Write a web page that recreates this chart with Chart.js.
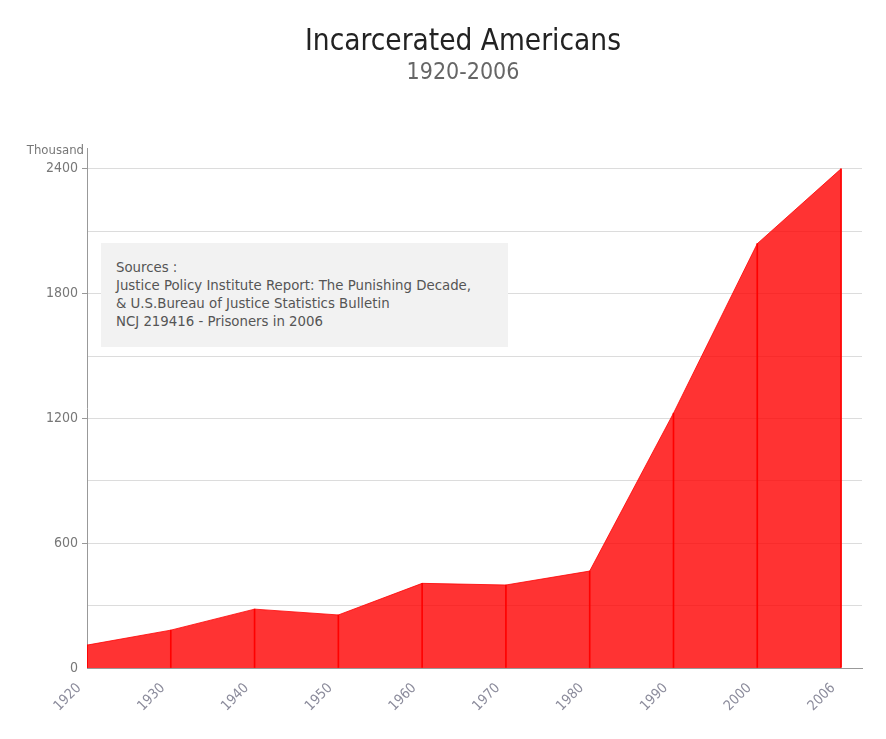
<!DOCTYPE html>
<html>
<head>
<meta charset="utf-8">
<script src="https://cdn.jsdelivr.net/npm/chart.js@4.4.1/dist/chart.umd.min.js"></script>
<style>
  html, body { margin: 0; padding: 0; background: #fff; }
  body { width: 886px; height: 739px; position: relative; overflow: hidden;
         font-family: "DejaVu Sans Condensed", "DejaVu Sans", sans-serif; }
  #wrap { position: absolute; left: 0; top: 0; width: 886px; height: 739px; }
  .title { position: absolute; left: 263px; width: 400px; text-align: center; white-space: nowrap; }
  #t1 { top: 23px; font-size: 29.5px; color: #222; }
  #t2 { top: 58px; font-size: 23px; color: #666; }
  #sources { position: absolute; left: 101px; top: 243px; width: 392px; height: 89px;
             background: #f2f2f2; padding: 15px 0 0 15px; font-size: 14.8px; line-height: 18px; color: #555; }
</style>
</head>
<body>
<div id="wrap"><canvas id="prisonChart"></canvas></div>
<div class="title" id="t1">Incarcerated Americans</div>
<div class="title" id="t2">1920-2006</div>
<div id="sources">Sources :<br>Justice Policy Institute Report: The Punishing Decade,<br>&amp; U.S.Bureau of Justice Statistics Bulletin<br>NCJ 219416 - Prisoners in 2006</div>
<script>
/* =========================
   Data (thousands)
========================= */
const years = ['1920', '1930', '1940', '1950', '1960', '1970', '1980', '1990', '2000', '2006'];
const inmates = [110, 182, 283, 255, 407, 399, 466, 1225, 2040, 2400];
const yTicks = [0, 600, 1200, 1800, 2400];

const points = years.map((y, i) => ({ x: i, y: inmates[i] }));

/* =========================
   "Thousand" unit label
========================= */
const unitLabel = {
    id: 'unitLabel',
    afterDraw(chart) {
        const { ctx, chartArea } = chart;
        ctx.save();
        ctx.font = "13px 'DejaVu Sans Condensed', sans-serif";
        ctx.fillStyle = '#777';
        ctx.textAlign = 'right';
        ctx.textBaseline = 'middle';
        ctx.fillText('Thousand', chartArea.left - 3, chartArea.top + 3);
        ctx.restore();
    }
};

const ctx = document.getElementById('prisonChart').getContext('2d');
new Chart(ctx, {
    data: {
        datasets: [{
            type: 'bar',
            data: points,
            backgroundColor: '#ff0000',
            barThickness: 1,
            order: 0
        }, {
            type: 'line',
            data: points,
            backgroundColor: 'rgba(255,0,0,0.8)',
            borderColor: 'rgba(255,0,0,0.8)',
            borderWidth: 1,
            fill: 'origin',
            pointRadius: 0,
            tension: 0,
            order: 1
        }]
    },
    options: {
        responsive: true,
        maintainAspectRatio: false,
        animation: false,
        layout: { padding: { top: 148, right: 24, left: 0, bottom: 11 } },
        plugins: { legend: { display: false }, tooltip: { enabled: false } },
        scales: {
            x: {
                type: 'linear',
                offset: false,
                min: 0,
                max: 9.25,
                afterBuildTicks: axis => { axis.ticks = years.map((_, i) => ({ value: i })); },
                afterFit: axis => { axis.height = 60; },
                grid: { display: false, drawTicks: false, offset: false },
                border: { color: '#999', width: 1 },
                ticks: {
                    autoSkip: false,
                    minRotation: 45,
                    maxRotation: 45,
                    labelOffset: -8,
                    padding: 12,
                    color: '#8c8c9c',
                    font: { size: 14, family: "'DejaVu Sans Condensed', sans-serif" },
                    callback: v => years[v]
                }
            },
            y: {
                min: 0,
                max: 2500,
                afterBuildTicks: axis => {
                    axis.ticks = [];
                    for (let v = 0; v <= 2400; v += 300) axis.ticks.push({ value: v });
                },
                afterFit: axis => { axis.width = 87; },
                grid: {
                    color: ctx => ctx.tick && ctx.tick.value === 0 ? 'rgba(0,0,0,0)' : '#dcdcdc',
                    tickColor: ctx => ctx.tick && yTicks.includes(ctx.tick.value) && ctx.tick.value !== 0 ? '#999' : 'rgba(0,0,0,0)',
                    tickLength: 5
                },
                border: { color: '#999', width: 1 },
                ticks: {
                    padding: 4,
                    color: '#777',
                    font: { size: 14, family: "'DejaVu Sans Condensed', sans-serif" },
                    callback: v => yTicks.includes(v) ? String(v) : ''
                }
            }
        }
    },
    plugins: [unitLabel]
});
</script>
</body>
</html>
